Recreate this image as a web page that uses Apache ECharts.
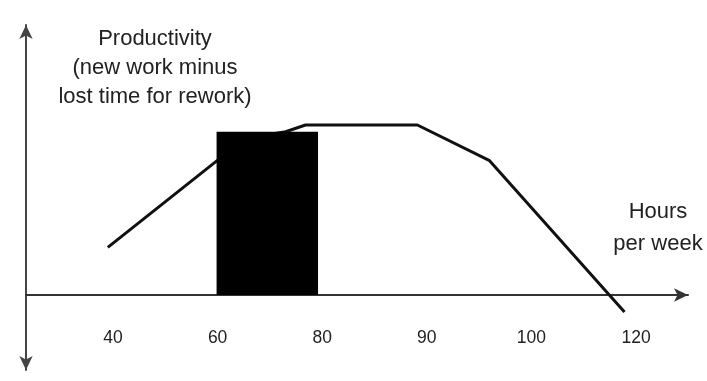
<!DOCTYPE html>
<html>
<head>
<meta charset="utf-8">
<script src="https://cdn.jsdelivr.net/npm/echarts@6/dist/echarts.min.js"></script>
<style>html,body{margin:0;padding:0;background:#fff}#c{width:707px;height:381px}</style>
</head>
<body>
<div id="c"></div>
<script>
// x positions are in "slot" units: slot i sits under tickLabels[i]
var tickSlots = [0, 1, 2, 3, 4, 5];
var tickLabels = ['40', '60', '80', '90', '100', '120'];
// productivity curve (slot, productivity)
var curveSlot = [-0.05, 1.26, 1.65, 1.84, 2.91, 3.60, 4.89];
var curveValue = [28, 92, 96, 100, 100, 79, -10];
// shaded block: from slot to slot, height
var blockFrom = [0.99];
var blockTo = [1.96];
var blockValue = [96];

var chart = echarts.init(document.getElementById('c'));
var curve = curveSlot.map(function (s, i) { return [s, curveValue[i]]; });
var blocks = blockFrom.map(function (s, i) { return [s, blockTo[i], blockValue[i]]; });
var font = 'Liberation Sans, Arial, sans-serif';

chart.setOption({
  animation: false,
  backgroundColor: '#fff',
  grid: { left: 26, right: 19, top: 25, bottom: 11, outerBoundsMode: 'none', containLabel: false },
  xAxis: {
    type: 'value', min: -0.832, max: 5.497,
    splitLine: { show: false },
    axisTick: { show: false },
    axisLine: { onZero: true, symbol: ['none', 'arrow'], symbolSize: [10, 14],
      lineStyle: { color: '#333', width: 2 } },
    axisLabel: {
      customValues: tickSlots, margin: -41, fontSize: 17.5, fontFamily: font, color: '#222',
      formatter: function (v) { var i = tickSlots.indexOf(Math.round(v)); return i >= 0 ? tickLabels[i] : ''; }
    }
  },
  yAxis: {
    type: 'value', min: -44.1, max: 158.8,
    splitLine: { show: false },
    axisTick: { show: false },
    axisLabel: { show: false },
    axisLine: { show: true, onZero: false, symbol: ['arrow', 'arrow'], symbolSize: [10, 14],
      lineStyle: { color: '#444', width: 2 } }
  },
  series: [
    {
      type: 'line', data: curve, symbol: 'none', z: 2,
      lineStyle: { color: '#111', width: 3 }
    },
    {
      type: 'custom', z: 3, data: blocks,
      renderItem: function (params, api) {
        var p0 = api.coord([api.value(0), 0]);
        var p1 = api.coord([api.value(1), api.value(2)]);
        return { type: 'rect', shape: { x: p0[0], y: p1[1], width: p1[0] - p0[0], height: p0[1] - p1[1] },
          style: { fill: '#000' } };
      }
    }
  ],
  graphic: [
    { type: 'text', x: 155, y: 24, style: { text: 'Productivity\n(new work minus\nlost time for rework)',
      fontSize: 22, fontFamily: font, fill: '#222', align: 'center', verticalAlign: 'top', lineHeight: 29 } },
    { type: 'text', x: 658, y: 196, style: { text: 'Hours\nper week', fontSize: 22, fontFamily: font,
      fill: '#222', align: 'center', verticalAlign: 'top', lineHeight: 32 } }
  ]
});
</script>
</body>
</html>
